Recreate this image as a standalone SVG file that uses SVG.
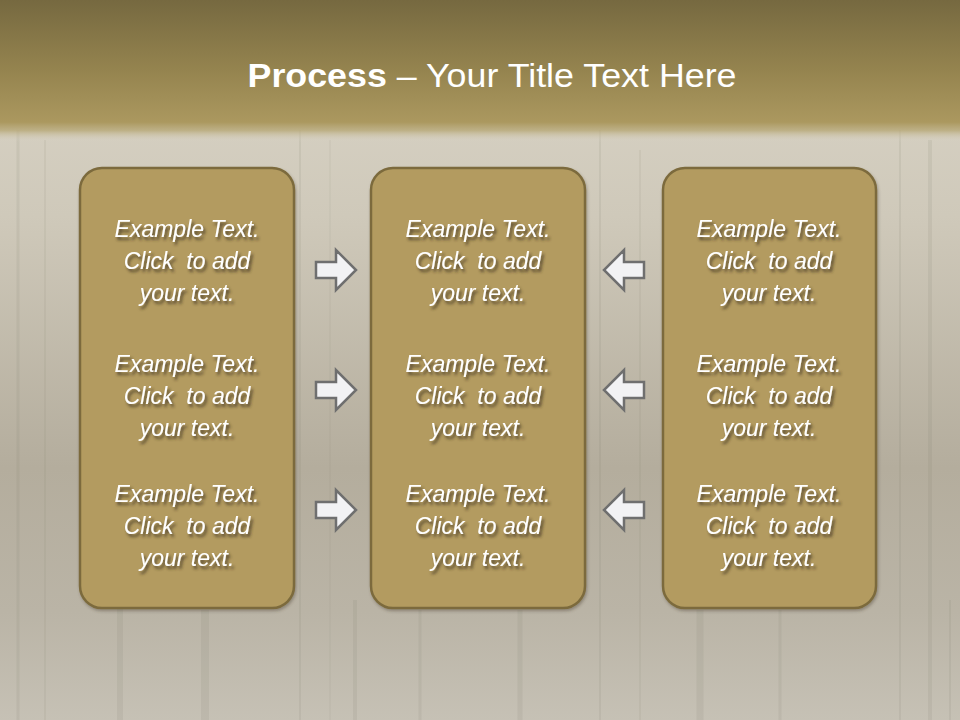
<svg xmlns="http://www.w3.org/2000/svg" width="960" height="720" viewBox="0 0 960 720">
<defs>
<linearGradient id="bg" x1="0" y1="0" x2="0" y2="1">
<stop offset="0" stop-color="#dcd7ca"/>
<stop offset="0.3" stop-color="#cfc9ba"/>
<stop offset="0.65" stop-color="#b4ad9d"/>
<stop offset="0.85" stop-color="#bab4a6"/>
<stop offset="1" stop-color="#c6c1b5"/>
</linearGradient>
<linearGradient id="top" x1="0" y1="0" x2="0" y2="1">
<stop offset="0" stop-color="#766940"/>
<stop offset="0.5" stop-color="#95844f"/>
<stop offset="0.86" stop-color="#ab985f"/>
<stop offset="0.92" stop-color="#b8a979" stop-opacity="0.8"/>
<stop offset="1" stop-color="#dcd7ca" stop-opacity="0"/>
</linearGradient>
<filter id="ts" x="-10%" y="-20%" width="130%" height="160%">
<feDropShadow dx="2" dy="3" stdDeviation="1.8" flood-color="#3a3020" flood-opacity="0.8"/>
</filter>
<filter id="bs" x="-5%" y="-5%" width="115%" height="115%">
<feDropShadow dx="1" dy="2" stdDeviation="1.5" flood-color="#4a4030" flood-opacity="0.4"/>
</filter>
<path id="ar" d="M-23,-8 H-3 V-20 L17,0 L-3,20 V8 H-23 Z"/>
</defs>
<style>
.box{fill:#b39b60;stroke:#7c6b3c;stroke-width:2.5}
.t{font-family:"Liberation Sans","Open Sans",sans-serif;font-style:italic;font-size:23px;fill:#ffffff;text-anchor:middle;white-space:pre}
.arw{fill:#f2f2f4;stroke:#6f6f6f;stroke-width:2.5;stroke-linejoin:miter}
.grain{stroke:#7f7868;stroke-opacity:0.12;fill:none}
</style>
<rect width="960" height="720" fill="url(#bg)"/>
<g class="grain">
<path d="M18 130 V720" stroke-width="3"/><path d="M45 140 V720" stroke-width="1.5"/>
<path d="M120 600 V720" stroke-width="6"/><path d="M205 610 V720" stroke-width="8"/>
<path d="M300 130 V720" stroke-width="2"/><path d="M330 140 V720" stroke-width="1"/>
<path d="M355 600 V720" stroke-width="4"/><path d="M420 610 V720" stroke-width="3"/>
<path d="M520 610 V720" stroke-width="5"/><path d="M600 130 V720" stroke-width="2"/>
<path d="M640 150 V720" stroke-width="1.5"/><path d="M700 610 V720" stroke-width="7"/>
<path d="M780 610 V720" stroke-width="3"/><path d="M900 130 V720" stroke-width="2"/>
<path d="M930 140 V720" stroke-width="4"/><path d="M950 600 V720" stroke-width="2"/>
</g>
<rect width="960" height="142" fill="url(#top)"/>
<text x="492" y="87" text-anchor="middle" font-family="Liberation Sans, Open Sans, sans-serif" font-size="34" fill="#ffffff" textLength="489" lengthAdjust="spacingAndGlyphs"><tspan font-weight="bold">Process</tspan> – Your Title Text Here</text>
<g id="node-left">
<rect class="box" x="80" y="168" width="214" height="440" rx="22" filter="url(#bs)"/>
<g filter="url(#ts)">
<text class="t" x="187" y="237">Example Text.</text><text class="t" x="187" y="269">Click  to add</text><text class="t" x="187" y="301">your text.</text>
<text class="t" x="187" y="372">Example Text.</text><text class="t" x="187" y="404">Click  to add</text><text class="t" x="187" y="436">your text.</text>
<text class="t" x="187" y="502">Example Text.</text><text class="t" x="187" y="534">Click  to add</text><text class="t" x="187" y="566">your text.</text>
</g>
</g>
<g id="node-center">
<rect class="box" x="371" y="168" width="214" height="440" rx="22" filter="url(#bs)"/>
<g filter="url(#ts)">
<text class="t" x="478" y="237">Example Text.</text><text class="t" x="478" y="269">Click  to add</text><text class="t" x="478" y="301">your text.</text>
<text class="t" x="478" y="372">Example Text.</text><text class="t" x="478" y="404">Click  to add</text><text class="t" x="478" y="436">your text.</text>
<text class="t" x="478" y="502">Example Text.</text><text class="t" x="478" y="534">Click  to add</text><text class="t" x="478" y="566">your text.</text>
</g>
</g>
<g id="node-right">
<rect class="box" x="663" y="168" width="213" height="440" rx="22" filter="url(#bs)"/>
<g filter="url(#ts)">
<text class="t" x="769" y="237">Example Text.</text><text class="t" x="769" y="269">Click  to add</text><text class="t" x="769" y="301">your text.</text>
<text class="t" x="769" y="372">Example Text.</text><text class="t" x="769" y="404">Click  to add</text><text class="t" x="769" y="436">your text.</text>
<text class="t" x="769" y="502">Example Text.</text><text class="t" x="769" y="534">Click  to add</text><text class="t" x="769" y="566">your text.</text>
</g>
</g>
<g id="connectors">
<use href="#ar" class="arw" transform="translate(339,270)"/>
<use href="#ar" class="arw" transform="translate(339,390)"/>
<use href="#ar" class="arw" transform="translate(339,510)"/>
<use href="#ar" class="arw" transform="translate(621,270) scale(-1,1)"/>
<use href="#ar" class="arw" transform="translate(621,390) scale(-1,1)"/>
<use href="#ar" class="arw" transform="translate(621,510) scale(-1,1)"/>
</g>
</svg>
